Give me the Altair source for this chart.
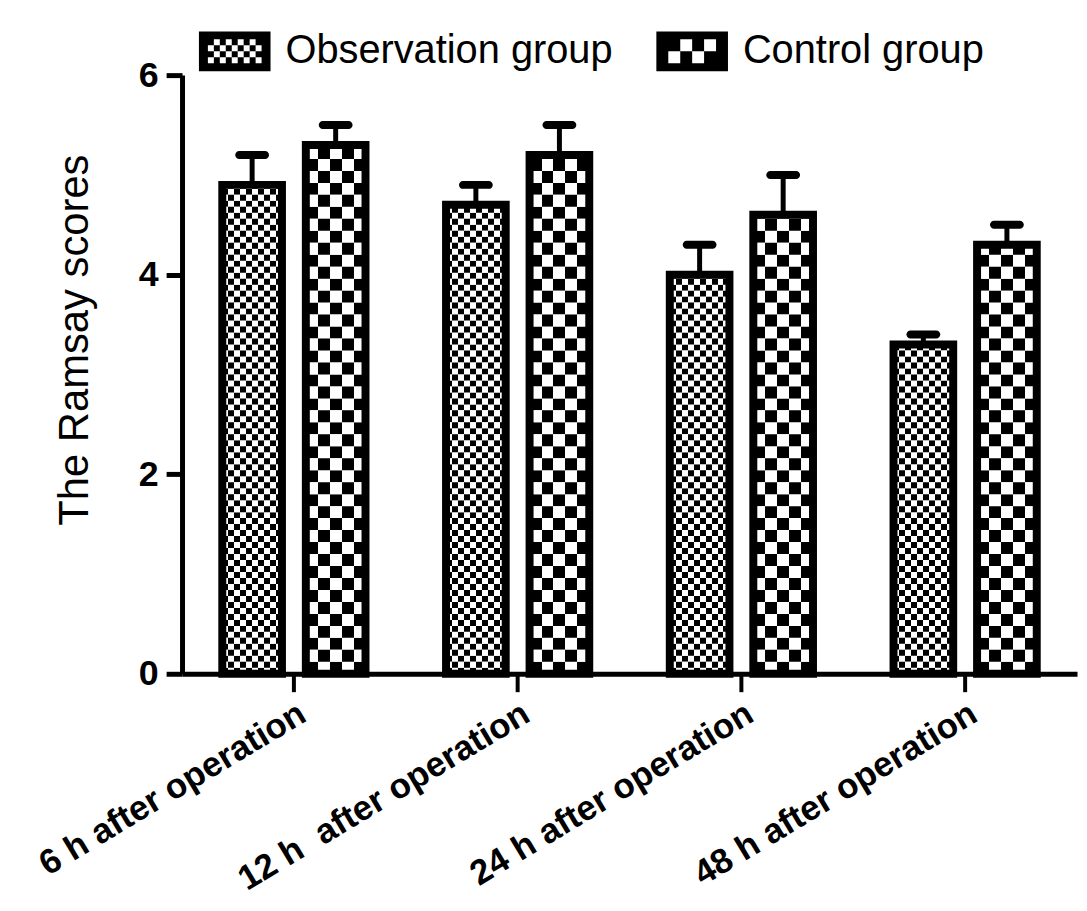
import math

import pandas as pd
import altair as alt

# Ramsay scores, mean and SD per time point
times = ["6 h after operation", "12 h\u00a0 after operation",
         "24 h after operation", "48 h after operation"]
groups = ["Observation group", "Control group"]
obs_mean = [4.9, 4.7, 4.0, 3.3]
obs_sd = [0.3, 0.2, 0.3, 0.1]
ctl_mean = [5.3, 5.2, 4.6, 4.3]
ctl_sd = [0.2, 0.3, 0.4, 0.2]
y_ticks = [0, 2, 4, 6]

FONT = "Liberation Sans"

# checker fill: cell height in score units and number of columns per bar
cell_h = {"Observation group": 0.06, "Control group": 0.12}
cell_cols = {"Observation group": 10, "Control group": 5}

bars = []
for g, means, sds in zip(groups, [obs_mean, ctl_mean], [obs_sd, ctl_sd]):
    for t, m, s in zip(times, means, sds):
        bars.append({"time": t, "group": g, "mean": m, "upper": m + s})
df = pd.DataFrame(bars)

# one row of checker cells per band of height cell_h, clipped at the bar top
cells = []
for b in bars:
    h = cell_h[b["group"]]
    for k in range(math.ceil(b["mean"] / h - 1e-9)):
        cells.append({"time": b["time"], "group": b["group"],
                      "lo": k * h, "hi": min((k + 1) * h, b["mean"]), "odd": k % 2})
cells = pd.DataFrame(cells)


def stripes(n, phase):
    stops = []
    for j in range(n):
        c = "black" if (j + phase) % 2 == 0 else "white"
        stops += [alt.GradientStop(color=c, offset=j / n),
                  alt.GradientStop(color=c, offset=(j + 1) / n)]
    return alt.LinearGradient(gradient="linear", stops=stops, x1=0, x2=1, y1=0, y2=0)


def swatch(cols, rows, cell):
    # black box with checker holes, in the -1..1 symbol box
    d = "M-1,-0.555L1,-0.555L1,0.555L-1,0.555Z"
    x0, y0 = -cols * cell / 2, -rows * cell / 2
    for r in range(rows):
        for c in range(cols):
            if (r + c) % 2:
                a, b = x0 + c * cell, y0 + r * cell
                d += (f"M{a:.3f},{b:.3f}L{a:.3f},{b + cell:.3f}"
                      f"L{a + cell:.3f},{b + cell:.3f}L{a + cell:.3f},{b:.3f}Z")
    return d


x_enc = alt.X("time:N", sort=times,
              scale=alt.Scale(paddingInner=0, paddingOuter=0),
              axis=alt.Axis(title=None, labelAngle=-31, labelAlign="right", labelBaseline="top",
                            labelFontSize=35, labelFontWeight="bold", labelFont=FONT,
                            labelColor="black", labelPadding=4, labelLimit=0,
                            tickSize=18, tickWidth=4, tickColor="black",
                            domainWidth=5, domainColor="black"))
xo_enc = alt.XOffset("group:N", sort=groups,
                     scale=alt.Scale(domain=groups, paddingInner=0.2857, paddingOuter=0.482))


def y_enc(field):
    return alt.Y(f"{field}:Q", scale=alt.Scale(domain=[0, 6], nice=False),
                 axis=alt.Axis(values=y_ticks, format="d", grid=False,
                               title="The Ramsay scores", titleFont=FONT, titleFontSize=42,
                               titleFontWeight="normal", titleColor="black",
                               titleAngle=270, titleAlign="center", titleBaseline="alphabetic",
                               titleX=-95, titleY=266,
                               labelFontSize=36, labelFontWeight="bold", labelFont=FONT,
                               labelColor="black", labelPadding=8,
                               tickSize=16, tickWidth=5, tickColor="black",
                               domainWidth=5, domainColor="black"))


pattern = [
    alt.Chart(cells).transform_filter((alt.datum.group == g) & (alt.datum.odd == p))
    .mark_bar(fill=stripes(cell_cols[g], p))
    .encode(x=x_enc, xOffset=xo_enc, y=y_enc("lo"), y2="hi:Q")
    for g in groups for p in (0, 1)
]

outline = alt.Chart(df).mark_bar(fillOpacity=0, stroke="black", strokeWidth=8).encode(
    x=x_enc, xOffset=xo_enc, y=y_enc("mean"))

stem = alt.Chart(df).mark_rule(color="black", strokeWidth=5).encode(
    x=x_enc, xOffset=xo_enc, y=y_enc("mean"), y2="upper:Q")

cap = alt.Chart(df).mark_tick(color="black", opacity=1, thickness=8, size=34, cornerRadius=4).encode(
    x=x_enc, xOffset=xo_enc, y=y_enc("upper"))

key = alt.Chart(df).mark_point(filled=True, color="black", size=0, opacity=0).encode(
    x=x_enc, xOffset=xo_enc, y=y_enc("mean"),
    shape=alt.Shape("group:N",
                    scale=alt.Scale(domain=groups,
                                    range=[swatch(9, 4, 1 / 6), swatch(4, 2, 1 / 3)]),
                    legend=alt.Legend(title=None, orient="none", legendX=17, legendY=-60,
                                      direction="horizontal", symbolSize=5184,
                                      symbolFillColor="black", symbolStrokeColor="black",
                                      symbolStrokeWidth=0,
                                      symbolOpacity=1, labelFontSize=40, labelFont=FONT,
                                      labelColor="black", labelOffset=15,
                                      columnPadding=43, labelLimit=0)))

chart = alt.layer(*pattern, outline, stem, cap, key).properties(
    width=900, height=602,
    autosize=alt.AutoSizeParams(type="none"),
    padding={"left": 175, "top": 65, "right": 2, "bottom": 226},
).configure_view(strokeWidth=0)

chart.save("out.html", embed_options={"renderer": "svg", "actions": False})
